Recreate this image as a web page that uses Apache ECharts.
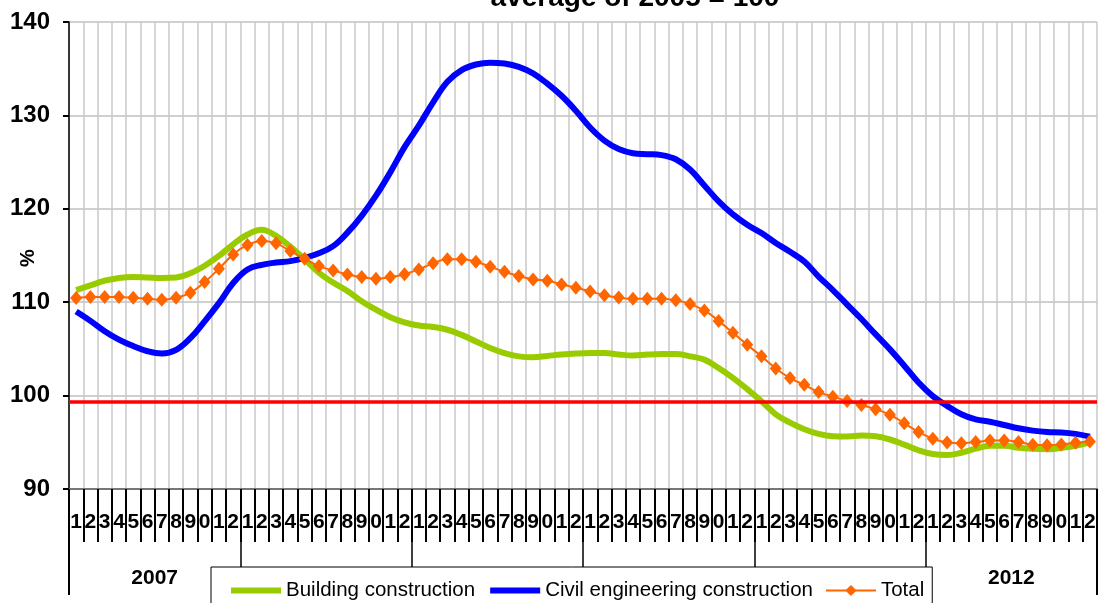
<!DOCTYPE html>
<html><head><meta charset="utf-8">
<script src="https://cdn.jsdelivr.net/npm/echarts@6/dist/echarts.min.js"></script>
<style>html,body{margin:0;padding:0;background:#fff}#c{width:1102px;height:603px}</style>
</head><body><div id="c"></div>
<script>
const years = ['2007','2008','2009','2010','2011','2012'];
const monthDigits = ['1','2','3','4','5','6','7','8','9','0','1','2'];
const titleText = 'average of 2005 = 100';
const yAxisName = '%';
const referenceLevel = 99.3;

const building = [111.3,111.8,112.3,112.6,112.7,112.65,112.6,112.65,113.1,113.9,114.95,116.2,
117.25,117.75,117.1,115.95,114.6,113.15,112.1,111.2,110.1,109.2,108.4,107.85,
107.5,107.35,107.05,106.5,105.8,105.1,104.55,104.2,104.1,104.25,104.4,104.5,
104.55,104.55,104.4,104.3,104.4,104.45,104.45,104.2,103.85,102.95,101.9,100.7,
99.4,98.0,97.1,96.4,95.9,95.65,95.62,95.72,95.65,95.3,94.75,94.15,
93.75,93.65,93.88,94.32,94.62,94.63,94.42,94.3,94.25,94.4,94.62,95.0];

const civil = [109.0,108.0,106.9,106.0,105.3,104.75,104.5,104.9,106.15,107.95,109.9,112.05,
113.5,114.0,114.25,114.4,114.75,115.25,116.0,117.45,119.25,121.4,123.9,126.6,
128.9,131.4,133.6,134.85,135.45,135.65,135.55,135.2,134.5,133.4,132.1,130.5,
128.7,127.3,126.4,125.95,125.85,125.75,125.3,124.2,122.5,120.8,119.4,118.3,
117.4,116.35,115.4,114.35,112.75,111.3,109.75,108.2,106.55,104.95,103.2,101.4,
99.95,98.9,98.0,97.45,97.2,96.85,96.5,96.25,96.1,96.05,95.9,95.6];

const total = [110.45,110.55,110.57,110.57,110.47,110.36,110.25,110.47,111.0,112.15,113.58,115.12,
116.13,116.56,116.3,115.48,114.66,113.87,113.4,112.97,112.69,112.5,112.69,113.0,
113.51,114.16,114.59,114.59,114.34,113.8,113.26,112.8,112.44,112.3,111.9,111.55,
111.15,110.75,110.5,110.36,110.36,110.36,110.2,109.8,109.12,108.0,106.72,105.45,
104.2,102.9,101.88,101.15,100.38,99.89,99.43,98.99,98.55,97.95,97.05,96.11,
95.38,94.98,94.9,95.02,95.18,95.18,95.04,94.74,94.69,94.77,94.95,95.09];

const seriesNames = ['Building construction','Civil engineering construction','Total'];
const seriesColors = ['#99cc00','#0000ff','#ff6600'];

const categories = [];
years.forEach(y => monthDigits.forEach((d, i) => categories.push(y + '-' + (i + 1))));

const FONT = 'Liberation Sans, Arial, sans-serif';
const hiddenSymbol = {color: 'rgba(0,0,0,0)', borderWidth: 0, opacity: 0};
const chart = echarts.init(document.getElementById('c'), null, {renderer: 'canvas'});
chart.setOption({
  animation: false,
  backgroundColor: '#fff',
  title: {
    text: titleText, left: 630, top: -21, textAlign: 'center',
    textStyle: {fontFamily: FONT, fontSize: 28, fontWeight: 'bold', color: '#000'}
  },
  graphic: [{
    type: 'text', x: 28, y: 258, rotation: Math.PI / 2,
    style: {text: yAxisName, font: 'bold 20px Liberation Sans, Arial', fill: '#000', align: 'center', verticalAlign: 'middle'}
  }],
  grid: {left: 69, right: 5, top: 22, bottom: 114, containLabel: false, outerBoundsMode: 'none'},
  legend: {
    data: [
      {name: seriesNames[0], itemStyle: hiddenSymbol, lineStyle: {width: 6, color: seriesColors[0]}},
      {name: seriesNames[1], itemStyle: hiddenSymbol, lineStyle: {width: 6, color: seriesColors[1]}},
      {name: seriesNames[2], lineStyle: {width: 2, color: seriesColors[2]}}
    ],
    left: 211, top: 567, orient: 'horizontal', z: 10,
    itemWidth: 50, itemHeight: 14, itemGap: 12,
    padding: [13, 8, 40, 17],
    backgroundColor: '#fff', borderColor: '#000', borderWidth: 1,
    textStyle: {fontFamily: FONT, fontSize: 20.5, color: '#000'}
  },
  xAxis: [
    {
      type: 'category', data: categories, position: 'bottom', boundaryGap: true,
      axisLine: {show: true, lineStyle: {color: '#777', width: 2}},
      axisTick: {show: true, interval: 0, length: 53, lineStyle: {color: '#000', width: 2}},
      axisLabel: {
        interval: 0, margin: 23, hideOverlap: false,
        fontFamily: FONT, fontWeight: 'bold', fontSize: 21, color: '#000',
        formatter: (v, i) => monthDigits[i % 12]
      },
      splitLine: {show: true, interval: 0, lineStyle: {color: '#c8c8c8', width: 1.5}}
    },
    {
      type: 'category', data: years, position: 'bottom', boundaryGap: true,
      axisLine: {show: false},
      axisTick: {show: true, interval: 0, length: 78, lineStyle: {color: '#000', width: 1.5}},
      axisLabel: {interval: 0, margin: 79, fontFamily: FONT, fontWeight: 'bold', fontSize: 21, color: '#000'},
      splitLine: {show: false}
    },
    {
      type: 'category', data: [''], position: 'bottom', boundaryGap: true,
      axisLine: {show: false},
      axisTick: {show: true, length: 106, lineStyle: {color: '#000', width: 2}},
      axisLabel: {show: false},
      splitLine: {show: false}
    }
  ],
  yAxis: {
    type: 'value', min: 90, max: 140, interval: 10,
    axisLine: {show: true, lineStyle: {color: '#000', width: 1.5}},
    axisTick: {show: true, length: 6, lineStyle: {color: '#000', width: 2}},
    axisLabel: {margin: 19, fontFamily: FONT, fontSize: 24, fontWeight: 'bold', color: '#000'},
    splitLine: {show: true, lineStyle: {color: '#c0c0c0', width: 1.5}}
  },
  series: [
    {
      name: seriesNames[0], type: 'line', data: building, smooth: 0.4, symbol: 'none',
      lineStyle: {color: seriesColors[0], width: 6}, itemStyle: {color: seriesColors[0]}, z: 2,
      markLine: {
        silent: true, symbol: ['none', 'none'], label: {show: false},
        lineStyle: {color: '#ff0000', width: 3.5, type: 'solid'},
        data: [{yAxis: referenceLevel}]
      }
    },
    {
      name: seriesNames[1], type: 'line', data: civil, smooth: 0.4, symbol: 'none',
      lineStyle: {color: seriesColors[1], width: 6}, itemStyle: {color: seriesColors[1]}, z: 3
    },
    {
      name: seriesNames[2], type: 'line', data: total, smooth: 0.4,
      symbol: 'diamond', symbolSize: [12, 14], showSymbol: true,
      lineStyle: {color: seriesColors[2], width: 2}, itemStyle: {color: seriesColors[2]}, z: 4
    }
  ]
});
</script></body></html>
